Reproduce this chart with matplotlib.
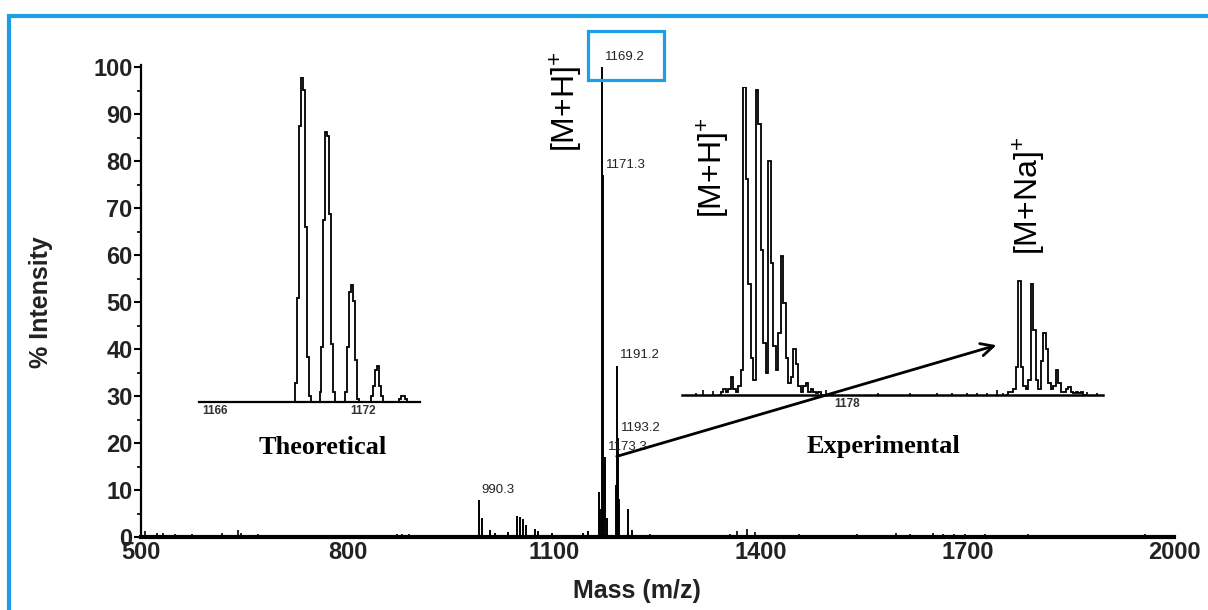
import matplotlib
matplotlib.use("Agg")
import matplotlib.pyplot as plt
import numpy as np
from matplotlib.patches import Rectangle

plt.rcParams['font.family'] = ['Liberation Sans', 'DejaVu Sans']
plt.rcParams['mathtext.fontset'] = 'custom'
plt.rcParams['mathtext.rm'] = 'Liberation Sans'
plt.rcParams['mathtext.bf'] = 'Liberation Sans:bold'

# full-range MALDI spectrum (stick peaks, % intensity)
main_mz = [1169.2, 1171.3, 1173.3, 1165.5, 1166.8, 1176.6,
           1191.2, 1193.2, 1189.8, 1194.6, 1207.0, 1213.0,
           990.3, 995.0, 1006.8, 1014.0, 1033.0, 1046.0, 1050.0,
           1054.7, 1059.0, 1072.0, 1076.0, 1096.8, 1141.8, 1149.0]
main_int = [100, 77, 17, 9.5, 6, 4,
            36.5, 21, 11, 8, 6, 1.5,
            7.9, 4, 1.5, 0.8, 1, 4.5, 4.2,
            3.8, 2.5, 1.8, 1.2, 0.8, 0.8, 1.2]

noise_mz = [505.8, 523, 532, 549, 574, 617.6, 640.8, 645, 670, 871.7, 879, 889,
            1239, 1282, 1355, 1365, 1380, 1391, 1456, 1539, 1560, 1597, 1616,
            1650, 1665, 1681, 1697, 1726, 1749, 1788, 1938, 1958]
noise_int = [1.2, 0.8, 0.9, 0.7, 0.6, 0.8, 1.4, 0.9, 0.6, 0.6, 0.7, 0.6,
             0.6, 0.5, 0.7, 1.2, 1.8, 1.0, 0.6, 0.7, 0.5, 0.8, 0.6,
             0.9, 0.7, 0.6, 0.7, 0.6, 0.5, 0.6, 0.5, 0.6]

labelled_mz = [1169.2, 1171.3, 1191.2, 1193.2, 1173.3, 990.3]

# theoretical isotope envelope of [M+H]+ (profile samples, 0.08 Da apart)
theo_step = 0.08
theo_centers = [1169.55, 1170.55, 1171.55, 1172.55, 1173.6]
theo_profiles = [[6, 32, 85, 100, 96, 54, 14, 2],
                 [3, 17, 56, 83, 82, 58, 18, 3],
                 [3, 17, 34, 36, 31, 13, 1],
                 [2, 5, 10, 11, 5, 2],
                 [1, 2, 2, 1]]
theo_ticks = [1166, 1172]

# experimental zoom: [M+H]+ and [M+Na]+ clusters (profile samples, 0.2 Da apart)
exp_step = 0.2
mh_start = 1168.0
mh_profile = [1, 2, 1, 2, 6, 2, 1, 3, 8, 100, 70, 36, 12, 5, 99, 88, 47, 17, 7,
              76, 43, 16, 8, 20, 45, 30, 12, 4, 6, 15, 10, 3, 1, 3, 4, 1, 2, 1,
              0.5, 1]
mna_start = 1191.0
mna_profile = [1, 1, 2, 9, 37, 9, 3, 2, 5, 36, 21, 5, 2, 11, 20, 15, 4, 2, 3,
               8, 4, 1, 1, 2, 2.5, 1, 0.5, 1, 0.5, 1]
exp_noise_mz = [1165.9, 1166.5, 1167.3, 1176.3, 1176.9, 1180.5, 1183.0, 1185.2,
                1186.4, 1187.6, 1188.4, 1189.2, 1190.0, 1190.5, 1197.2, 1198.0]
exp_noise_int = [0.8, 1.6, 1.2, 1.5, 1.0, 0.5, 0.6, 0.5,
                 0.8, 0.6, 0.7, 0.5, 1.5, 0.8, 1.0, 0.8]
exp_ticks = [1178]

W, H = 1208, 610
BLUE = '#1c9fe6'


def box(x0, y0, x1, y1):
    return [x0 / W, 1 - y1 / H, (x1 - x0) / W, (y1 - y0) / H]


def step_trace(ax, xs, ys, step, lw=1.3):
    xs = np.r_[xs[0] - step, xs, xs[-1] + step]
    ys = np.r_[0, ys, 0]
    ax.plot(xs, ys, color='k', lw=lw, drawstyle='steps-mid', solid_joinstyle='miter')


fig = plt.figure(figsize=(W / 100, H / 100), dpi=100)

# main spectrum
ax = fig.add_axes(box(141, 65, 1174, 537))
ax.vlines(main_mz, 0, main_int, color='k', lw=1.4)
ax.vlines(noise_mz, 0, noise_int, color='k', lw=1.2)
ax.set_xlim(500, 2000)
ax.set_ylim(0, 100.5)
ax.set_xticks([500, 800, 1100, 1400, 1700, 2000])
ax.set_yticks(range(0, 101, 10))
ax.set_yticks(range(5, 100, 10), minor=True)
for s in ['top', 'right']:
    ax.spines[s].set_visible(False)
ax.spines['left'].set_linewidth(1.6)
ax.spines['bottom'].set_linewidth(3)
ax.tick_params(axis='y', which='major', length=5, width=1.5, labelsize=17, pad=1)
ax.tick_params(axis='y', which='minor', length=3, width=1.2)
ax.tick_params(axis='x', length=0, labelsize=17, pad=3)
for t in ax.get_xticklabels() + ax.get_yticklabels():
    t.set_fontweight('bold')
    t.set_color('#222222')

peak_height = dict(zip(main_mz, main_int))
for mz in labelled_mz:
    ax.annotate(f"{mz:.1f}", (mz, peak_height[mz]), xytext=(2, 3),
                textcoords='offset points', fontsize=9.5, color='#222222',
                ha='left', va='bottom')

ax.annotate('', xy=(1746, 41), xytext=(1187, 17),
            arrowprops=dict(arrowstyle='->,head_length=0.9,head_width=0.45',
                            lw=2, color='k'))
ax.text(1116, 92.7, r'[M+H]$^{+}$', rotation=90, fontsize=23,
        ha='center', va='center')

fig.text(41 / W, 1 - 302 / H, '% Intensity', rotation=90, fontsize=18,
         fontweight='bold', ha='center', va='center', color='#222222')
fig.text(637 / W, 1 - 591 / H, 'Mass (m/z)', fontsize=18,
         fontweight='bold', ha='center', va='center', color='#222222')

# theoretical inset
tx = fig.add_axes(box(199, 77, 420, 402))
tx.patch.set_visible(False)
for c, p in zip(theo_centers, theo_profiles):
    xs = c + (np.arange(len(p)) - (len(p) - 1) / 2) * theo_step
    step_trace(tx, xs, p, theo_step)
tx.set_xlim(1165.35, 1174.3)
tx.set_ylim(0, 100)
for s in ['top', 'right', 'left']:
    tx.spines[s].set_visible(False)
tx.spines['bottom'].set_linewidth(1.6)
tx.set_yticks([])
tx.set_xticks(theo_ticks)
tx.tick_params(axis='x', length=0, labelsize=8.5, pad=2, labelcolor='#333333')
for t in tx.get_xticklabels():
    t.set_fontweight('bold')
fig.text(323 / W, 1 - 447 / H, 'Theoretical', family='Liberation Serif',
         fontweight='bold', fontsize=19, ha='center', va='center')

# experimental inset
ex = fig.add_axes(box(682, 87, 1103, 395))
ex.patch.set_visible(False)
step_trace(ex, mh_start + np.arange(len(mh_profile)) * exp_step, mh_profile, exp_step)
step_trace(ex, mna_start + np.arange(len(mna_profile)) * exp_step, mna_profile, exp_step)
ex.vlines(exp_noise_mz, 0, exp_noise_int, color='k', lw=1.2)
ex.set_xlim(1164.8, 1198.48)
ex.set_ylim(0, 100)
for s in ['top', 'right', 'left']:
    ex.spines[s].set_visible(False)
ex.spines['bottom'].set_linewidth(1.8)
ex.set_yticks([])
ex.set_xticks(exp_ticks)
ex.tick_params(axis='x', length=0, labelsize=8.5, pad=2, labelcolor='#333333')
for t in ex.get_xticklabels():
    t.set_fontweight('bold')
ex.text(1167.2, 73.7, r'[M+H]$^{+}$', rotation=90, fontsize=23,
        ha='center', va='center')
ex.text(1192.5, 64.6, r'[M+Na]$^{+}$', rotation=90, fontsize=23,
        ha='center', va='center')
fig.text(883 / W, 1 - 447 / H, 'Experimental', family='Liberation Serif',
         fontweight='bold', fontsize=19, ha='center', va='center')

# blue frame and highlight box
fig.patches.append(Rectangle((9 / W, -0.1), 1.2, 1 - 16 / H + 0.1,
                             transform=fig.transFigure, fill=False,
                             edgecolor=BLUE, lw=3))
fig.patches.append(Rectangle((588 / W, 1 - 80 / H), 76 / W, 49 / H,
                             transform=fig.transFigure, fill=False,
                             edgecolor=BLUE, lw=2.3))

fig.savefig('out.png', dpi=100)
